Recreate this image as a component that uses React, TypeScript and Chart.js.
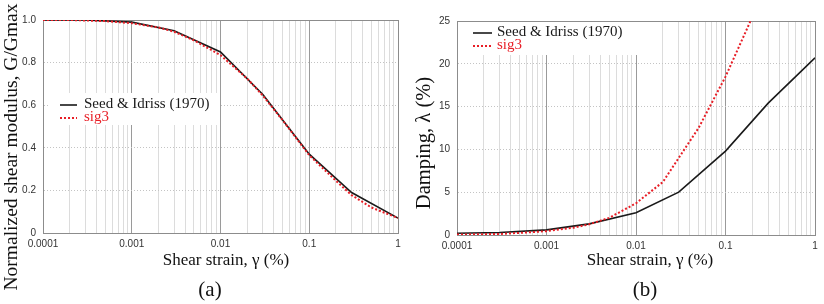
import React, { useEffect, useRef } from 'react';
import { Chart, registerables } from 'chart.js';

Chart.register(...registerables);

// ---------- data ----------
const xTickLabels = ['0.0001', '0.001', '0.01', '0.1', '1'];

const strainSeed = [0.0001, 0.0003, 0.001, 0.003, 0.01, 0.03, 0.1, 0.3, 1];
const modulusSeed = [1.0, 1.0, 0.99, 0.95, 0.85, 0.65, 0.37, 0.19, 0.07];
const dampingSeed = [0.2, 0.3, 0.6, 1.3, 2.6, 5.0, 9.8, 15.4, 20.7];

const strainSig3 = [0.0001, 0.0002, 0.0005, 0.001, 0.002, 0.003, 0.005, 0.01, 0.02, 0.03, 0.05, 0.1, 0.2, 0.3, 0.5, 1];
const modulusSig3 = [1.0, 1.0, 0.995, 0.985, 0.965, 0.945, 0.905, 0.835, 0.725, 0.645, 0.53, 0.365, 0.245, 0.178, 0.12, 0.07];

const strainSig3Damp = [0.0001, 0.0002, 0.0003, 0.0005, 0.001, 0.002, 0.003, 0.005, 0.01, 0.02, 0.03, 0.05, 0.1, 0.2];
const dampingSig3 = [0.05, 0.1, 0.12, 0.25, 0.45, 0.85, 1.25, 2.0, 3.7, 6.2, 9.0, 12.5, 18.5, 25.5];

const SEED_LABEL = 'Seed & Idriss (1970)';
const SIG3_LABEL = 'sig3';

// ---------- styles ----------
const SERIF = '"Liberation Serif", "Times New Roman", serif';
const SANS = '"Liberation Sans", Arial, sans-serif';
const BLACK = '#1a1a1a';
const RED = 'rgb(232,30,38)';
const CW = 412;
const CH = 304;

const toPoints = (xs: number[], ys: number[]) => xs.map((x, i) => ({ x, y: ys[i] }));
const isDecade = (v: number) => Math.abs(Math.log10(v) - Math.round(Math.log10(v))) < 1e-6;
const xMin = Number(xTickLabels[0]);
const xMax = Number(xTickLabels[xTickLabels.length - 1]);

const framePlugin = {
  id: 'frame',
  beforeDatasetsDraw(chart: any) {
    const { ctx, chartArea } = chart;
    const { left, top, right, bottom } = chartArea;
    ctx.save();
    ctx.strokeStyle = '#8c8c8c';
    ctx.lineWidth = 1;
    ctx.setLineDash([]);
    ctx.strokeRect(left + 0.5, top + 0.5, right - left, bottom - top);
    ctx.restore();
  },
};

const boxLegendPlugin = {
  id: 'boxLegend',
  afterDatasetsDraw(chart: any, _args: any, opts: any) {
    const { ctx } = chart;
    const ca = chart.chartArea;
    ctx.save();
    ctx.fillStyle = '#ffffff';
    ctx.fillRect(ca.left + opts.box.x, ca.top + opts.box.y, opts.box.w, opts.box.h);
    ctx.font = `${opts.fontSize}px ${SERIF}`;
    ctx.textBaseline = 'middle';
    ctx.textAlign = 'left';
    chart.data.datasets.forEach((ds: any, i: number) => {
      const y = ca.top + opts.rows[i];
      ctx.strokeStyle = ds.borderColor;
      ctx.lineWidth = ds.borderWidth;
      ctx.setLineDash(ds.borderDash || []);
      ctx.beginPath();
      ctx.moveTo(ca.left + opts.lineX0, y + 1);
      ctx.lineTo(ca.left + opts.lineX1, y + 1);
      ctx.stroke();
      ctx.setLineDash([]);
      ctx.fillStyle = ds.borderColor;
      ctx.fillText(ds.label, ca.left + opts.textX, y);
    });
    ctx.restore();
  },
};

const panelTitlesPlugin = {
  id: 'panelTitles',
  afterDraw(chart: any, _args: any, opts: any) {
    const { ctx } = chart;
    ctx.save();
    ctx.fillStyle = '#111';
    ctx.textAlign = 'center';
    ctx.textBaseline = 'middle';
    // y title
    ctx.font = `${opts.yTitleSize}px ${SERIF}`;
    ctx.save();
    ctx.translate(opts.yTitleX, opts.yTitleY);
    ctx.rotate(-Math.PI / 2);
    ctx.fillText(opts.yTitle, 0, 0);
    ctx.restore();
    // x title
    ctx.font = `${opts.xTitleSize}px ${SERIF}`;
    ctx.fillText(opts.xTitle, opts.xTitleX, opts.xTitleY);
    // panel label
    ctx.font = `${opts.panelSize}px ${SERIF}`;
    ctx.fillText(opts.panel, opts.panelX, opts.panelY);
    ctx.restore();
  },
};

function makeConfig(p: any): any {
  return {
    type: 'line',
    data: {
      datasets: [
        {
          label: SEED_LABEL,
          data: p.seed,
          borderColor: BLACK,
          borderWidth: 1.6,
          pointRadius: 0,
          fill: false,
          tension: 0,
          order: 1,
        },
        {
          label: SIG3_LABEL,
          data: p.sig3,
          borderColor: RED,
          borderWidth: 2,
          borderDash: [2, 2],
          pointRadius: 0,
          fill: false,
          tension: 0,
          order: 0,
        },
      ],
    },
    options: {
      animation: false,
      responsive: false,
      devicePixelRatio: 1,
      events: [],
      layout: {
        padding: { left: 0, top: p.plot.top, right: CW - p.plot.right, bottom: 0 },
      },
      scales: {
        x: {
          type: 'logarithmic',
          min: xMin,
          max: xMax,
          afterFit: (s: any) => {
            s.height = CH - p.plot.bottom;
          },
          afterBuildTicks: (s: any) => {
            const ticks: any[] = [];
            for (let e = Math.round(Math.log10(xMin)); e < Math.round(Math.log10(xMax)); e++) {
              for (let m = 1; m < 10; m++) {
                ticks.push({ value: parseFloat((m * Math.pow(10, e)).toPrecision(8)) });
              }
            }
            ticks.push({ value: xMax });
            s.ticks = ticks;
          },
          ticks: {
            autoSkip: false,
            maxRotation: 0,
            minRotation: 0,
            padding: 5,
            color: '#333',
            font: { family: SANS, size: 10 },
            callback: (v: any) => {
              const val = Number(v);
              if (!isDecade(val)) return '';
              const lbl = xTickLabels.find((t) => Math.abs(Number(t) - val) / val < 1e-6);
              return lbl ?? '';
            },
          },
          grid: {
            drawTicks: false,
            lineWidth: 1,
            color: (ctx: any) => (ctx.tick && isDecade(ctx.tick.value) ? '#9a9a9a' : '#dcdcdc'),
          },
          border: { display: true, color: '#8c8c8c' },
        },
        y: {
          type: 'linear',
          min: p.yMin,
          max: p.yMax,
          afterFit: (s: any) => {
            s.width = p.plot.left;
          },
          ticks: {
            stepSize: p.yStep,
            padding: 7,
            color: '#333',
            font: { family: SANS, size: 10 },
          },
          grid: {
            drawTicks: false,
            lineWidth: 1,
            color: '#c4c4c4',
          },
          border: { display: true, color: '#8c8c8c', dash: [1, 2] },
        },
      },
      plugins: {
        legend: { display: false },
        tooltip: { enabled: false },
        title: { display: false },
        boxLegend: p.legend,
        panelTitles: p.titles,
      },
    },
    plugins: [framePlugin, boxLegendPlugin, panelTitlesPlugin],
  };
}

export default function App() {
  const leftRef = useRef<HTMLCanvasElement | null>(null);
  const rightRef = useRef<HTMLCanvasElement | null>(null);

  useEffect(() => {
    const left = new Chart(
      leftRef.current as HTMLCanvasElement,
      makeConfig({
        seed: toPoints(strainSeed, modulusSeed),
        sig3: toPoints(strainSig3, modulusSig3),
        yMin: 0,
        yMax: 1,
        yStep: 0.2,
        plot: { left: 43, right: 398, top: 20, bottom: 233 },
        legend: {
          box: { x: 7, y: 73, w: 170, h: 32 },
          rows: [84, 97],
          lineX0: 17,
          lineX1: 34,
          textX: 41,
          fontSize: 15,
        },
        titles: {
          yTitle: 'Normalized shear modulus, G/Gmax',
          yTitleSize: 19.5,
          yTitleX: 12,
          yTitleY: 147,
          xTitle: 'Shear strain, γ (%)',
          xTitleSize: 17,
          xTitleX: 226,
          xTitleY: 261,
          panel: '(a)',
          panelSize: 21,
          panelX: 210,
          panelY: 290,
        },
      })
    );
    const right = new Chart(
      rightRef.current as HTMLCanvasElement,
      makeConfig({
        seed: toPoints(strainSeed, dampingSeed),
        sig3: toPoints(strainSig3Damp, dampingSig3),
        yMin: 0,
        yMax: 25,
        yStep: 5,
        plot: { left: 45, right: 403, top: 21, bottom: 235 },
        legend: {
          box: { x: 1, y: 1, w: 182, h: 33 },
          rows: [11, 24],
          lineX0: 16,
          lineX1: 35,
          textX: 40,
          fontSize: 15,
        },
        titles: {
          yTitle: 'Damping, λ (%)',
          yTitleSize: 20.5,
          yTitleX: 13,
          yTitleY: 143,
          xTitle: 'Shear strain, γ (%)',
          xTitleSize: 17,
          xTitleX: 238,
          xTitleY: 261,
          panel: '(b)',
          panelSize: 21,
          panelX: 233,
          panelY: 290,
        },
      })
    );
    return () => {
      left.destroy();
      right.destroy();
    };
  }, []);

  return (
    <div style={{ position: 'fixed', left: 0, top: 0, width: 824, height: 304, background: '#fff' }}>
      <canvas
        ref={leftRef}
        width={CW}
        height={CH}
        style={{ position: 'absolute', left: 0, top: 0, width: CW, height: CH }}
      />
      <canvas
        ref={rightRef}
        width={CW}
        height={CH}
        style={{ position: 'absolute', left: CW, top: 0, width: CW, height: CH }}
      />
    </div>
  );
}
